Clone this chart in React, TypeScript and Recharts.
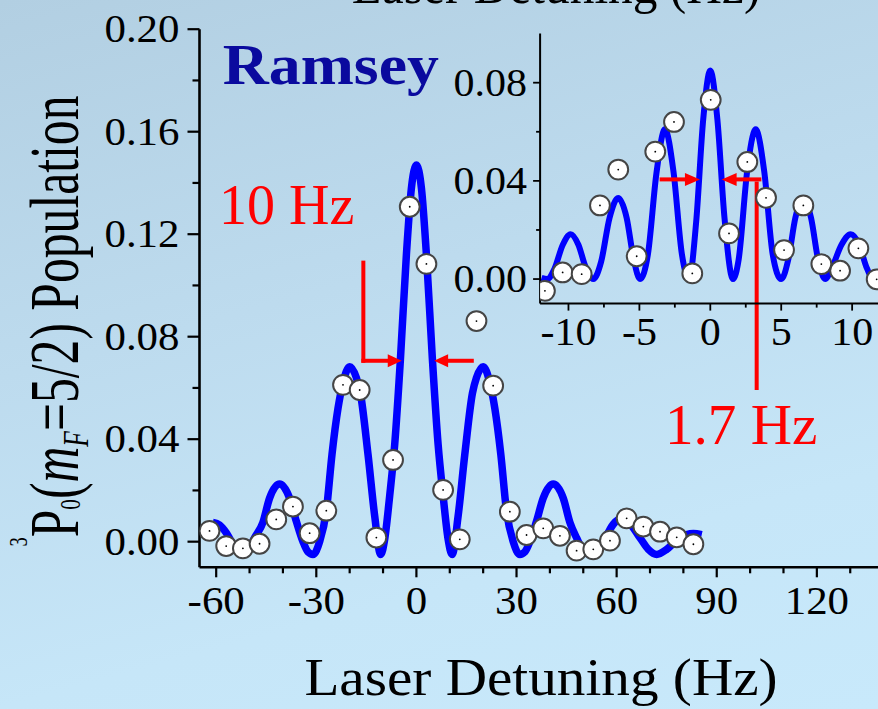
import React from 'react';
import { ComposedChart, Line, Scatter, XAxis, YAxis, ReferenceLine } from 'recharts';

const FONT = '"Liberation Serif", "Times New Roman", Times, serif';

// ---------- main panel: Ramsey fit curve ----------
const mainFitX = [-61, -59, -57, -54.5, -52.5, -50.5, -48.5, -46, -44, -41, -38, -36, -34, -32.5, -31, -29, -27, -25.3, -23.5, -22, -20, -18, -16.8, -14.5, -12.5, -10.7, -9.5, -8, -6.5, -4.8, -3, -1.5, 0, 1.5, 3, 4.8, 6.5, 8, 9.5, 10.7, 12.5, 14.5, 16.8, 18, 20, 22, 23.5, 25.3, 27, 29, 31, 32.5, 34, 36, 38, 41, 44, 46, 48, 50, 52, 54.5, 57, 59, 61.5, 64, 67, 69.5, 72, 75, 78, 81, 83, 85.5];
const mainFitY = [0.0075, 0.0065, 0.0035, -0.002, -0.005, -0.0035, 0.0015, 0.0075, 0.017, 0.0225, 0.017, 0.008, 0.0, -0.004, -0.005, 0.0, 0.012, 0.034, 0.052, 0.062, 0.0683, 0.064, 0.058, 0.034, 0.01, -0.005, 0.001, 0.018, 0.038, 0.071, 0.112, 0.138, 0.147, 0.138, 0.112, 0.071, 0.038, 0.018, 0.001, -0.005, 0.01, 0.034, 0.058, 0.064, 0.0683, 0.062, 0.052, 0.034, 0.012, 0.0, -0.005, -0.004, 0.0, 0.008, 0.017, 0.0225, 0.017, 0.0075, 0.0015, -0.0035, -0.005, -0.0025, 0.0025, 0.0068, 0.009, 0.007, 0.0015, -0.003, -0.005, -0.003, 0.0005, 0.0028, 0.0032, 0.0027];

// main panel: measured points
const mainDataX = [-62, -57, -52, -47, -42, -37, -32, -27, -22, -17, -12, -7, -2, 3, 8, 13, 18, 23, 28, 33, 38, 43, 48, 53, 58, 63, 68, 73, 78, 83];
const mainDataY = [0.0042, -0.0017, -0.0026, -0.0008, 0.0087, 0.0137, 0.0033, 0.0121, 0.0612, 0.0592, 0.0016, 0.0319, 0.1307, 0.1084, 0.0202, 0.0009, 0.0861, 0.0609, 0.0117, 0.0026, 0.0052, 0.0023, -0.0035, -0.003, 0.0004, 0.0091, 0.0059, 0.0039, 0.0017, -0.001];

// ---------- inset ----------
const insetFitX = [-11.9, -11.5, -11, -10.4, -9.85, -9.3, -8.8, -8.25, -7.7, -7.1, -6.5, -5.9, -5.4, -4.95, -4.4, -3.8, -3.2, -2.6, -2, -1.5, -1, -0.5, 0, 0.5, 1, 1.6, 2, 2.6, 3.2, 3.8, 4.4, 5, 5.5, 6, 6.55, 7.1, 7.6, 8.1, 8.6, 9.25, 9.9, 10.5, 11, 11.5, 12];
const insetFitY = [0.0005, 0.0, 0.004, 0.014, 0.0183, 0.014, 0.005, 0.0, 0.007, 0.025, 0.033, 0.025, 0.008, 0.0, 0.01, 0.043, 0.061, 0.044, 0.01, 0.0, 0.023, 0.065, 0.085, 0.065, 0.025, 0.0, 0.008, 0.044, 0.061, 0.044, 0.01, 0.0, 0.008, 0.025, 0.033, 0.025, 0.008, 0.0, 0.005, 0.014, 0.0183, 0.014, 0.005, 0.0, 0.003];
const insetDataX = [-11.66, -10.41, -9.07, -7.78, -6.49, -5.19, -3.88, -2.56, -1.27, 0.03, 1.32, 2.61, 3.93, 5.2, 6.56, 7.83, 9.15, 10.44, 11.73];
const insetDataY = [-0.0048, 0.0027, 0.002, 0.03, 0.0446, 0.0093, 0.0519, 0.064, 0.0023, 0.073, 0.0186, 0.0477, 0.0331, 0.0118, 0.03, 0.0061, 0.0034, 0.0125, -0.0001];

// ---------- axes ----------
const mainXTicks = [-60, -50, -40, -30, -20, -10, 0, 10, 20, 30, 40, 50, 60, 70, 80, 90, 100, 110, 120, 130];
const mainXMajor = [-60, -30, 0, 30, 60, 90, 120];
const mainXLabels = ['-60', '-30', '0', '30', '60', '90', '120'];
const mainYTicks = [0, 0.02, 0.04, 0.06, 0.08, 0.1, 0.12, 0.14, 0.16, 0.18, 0.2];
const mainYMajor = [0, 0.04, 0.08, 0.12, 0.16, 0.2];
const mainYLabels = ['0.00', '0.04', '0.08', '0.12', '0.16', '0.20'];
const insetXTicks = [-10, -7.5, -5, -2.5, 0, 2.5, 5, 7.5, 10];
const insetXMajor = [-10, -5, 0, 5, 10];
const insetXLabels = ['-10', '-5', '0', '5', '10'];
const insetYTicks = [0, 0.02, 0.04, 0.06, 0.08];
const insetYMajor = [0, 0.04, 0.08];
const insetYLabels = ['0.00', '0.04', '0.08'];

// annotation segments (data coordinates)
const mainBracket = [{ x: -15.9, y: 0.1089 }, { x: -15.9, y: 0.0706 }];
const mainArrowL = [{ x: -15.9, y: 0.0706 }, { x: -4.4, y: 0.0706 }];
const mainArrowR = [{ x: 16.6, y: 0.0706 }, { x: 5.3, y: 0.0706 }];
const insetArrowL = [{ x: -3.43, y: 0.0406 }, { x: -0.73, y: 0.0406 }];
const insetArrowR = [{ x: 3.46, y: 0.0406 }, { x: 0.8, y: 0.0406 }];
const insetDrop = [{ x: 3.27, y: 0.0389 }, { x: 3.27, y: -0.0444 }];

const mainFit = mainFitX.map((x, i) => ({ x, y: mainFitY[i] }));
const mainData = mainDataX.map((x, i) => ({ x, y: mainDataY[i] }));
const insetFit = insetFitX.map((x, i) => ({ x, y: insetFitY[i] }));
const insetData = insetDataX.map((x, i) => ({ x, y: insetDataY[i] }));

type TickOpts = { major: number; minor: number; sw: number; dy: number; dx?: number; fs: number; sx: number };

function makeXTick(majors: number[], labels: string[], o: TickOpts, dir: number) {
  return (props: any) => {
    const { x, y, payload } = props;
    const i = majors.indexOf(payload.value);
    const len = i >= 0 ? o.major : o.minor;
    return (
      <g>
        <line x1={x} x2={x} y1={y} y2={y + dir * len} stroke="#000" strokeWidth={o.sw} />
        {i >= 0 && labels.length > 0 && (
          <text transform={`translate(${x},${y + o.dy}) scale(${o.sx},1)`} textAnchor="middle" fontSize={o.fs} fontFamily={FONT} fill="#000">
            {labels[i]}
          </text>
        )}
      </g>
    );
  };
}

function makeYTick(majors: number[], labels: string[], o: TickOpts) {
  return (props: any) => {
    const { x, y, payload } = props;
    const i = majors.indexOf(payload.value);
    const len = i >= 0 ? o.major : o.minor;
    return (
      <g>
        <line x1={x - len} x2={x} y1={y} y2={y} stroke="#000" strokeWidth={o.sw} />
        {i >= 0 && (
          <text transform={`translate(${x - (o.dx || 0)},${y + o.dy}) scale(${o.sx},1)`} textAnchor="end" fontSize={o.fs} fontFamily={FONT} fill="#000">
            {labels[i]}
          </text>
        )}
      </g>
    );
  };
}

const MainXTick = makeXTick(mainXMajor, mainXLabels, { major: 10, minor: 6, sw: 2.2, dy: 47, fs: 39, sx: 1.1 }, 1);
const MainTopTick = makeXTick(mainXMajor, [], { major: 4, minor: 4, sw: 1.8, dy: 0, fs: 39, sx: 1 }, 1);
const MainYTick = makeYTick(mainYMajor, mainYLabels, { major: 12, minor: 7, sw: 2.2, dy: 13, dx: 20, fs: 39, sx: 1.1 });
const InsetXTick = makeXTick(insetXMajor, insetXLabels, { major: 7, minor: 4, sw: 1.8, dy: 41, fs: 40, sx: 1.05 }, 1);
const InsetYTick = makeYTick(insetYMajor, insetYLabels, { major: 7, minor: 4, sw: 1.8, dy: 13, dx: 13, fs: 40, sx: 1.05 });

const Marker = (props: any) => {
  const { cx, cy } = props;
  if (cx == null || cy == null) return null;
  return (
    <g>
      <circle cx={cx} cy={cy} r={9.9} fill="#ffffff" stroke="#454545" strokeWidth={2} />
      <circle cx={cx} cy={cy} r={0.9} fill="#000" />
    </g>
  );
};

const arrowShape = (head: number, half: number, sw: number) => (p: any) => {
  const { x1, y1, x2, y2 } = p;
  if ([x1, y1, x2, y2].some((v) => v == null || isNaN(v))) return <g />;
  const dx = x2 - x1;
  const dy = y2 - y1;
  const L = Math.sqrt(dx * dx + dy * dy) || 1;
  const ux = dx / L;
  const uy = dy / L;
  if (head <= 0) {
    return <line x1={x1} y1={y1} x2={x2} y2={y2} stroke="#ff0000" strokeWidth={sw} strokeLinecap="square" />;
  }
  const bx = x2 - ux * head;
  const by = y2 - uy * head;
  const px = -uy * half;
  const py = ux * half;
  return (
    <g>
      <line x1={x1} y1={y1} x2={bx + ux * 2} y2={by + uy * 2} stroke="#ff0000" strokeWidth={sw} strokeLinecap="square" />
      <polygon points={`${x2},${y2} ${bx + px},${by + py} ${bx - px},${by - py}`} fill="#ff0000" />
    </g>
  );
};

const T = (p: { x: number; y: number; sx?: number; size: number; color?: string; anchor?: string; bold?: boolean; children: any }) => (
  <text
    transform={`translate(${p.x},${p.y}) scale(${p.sx || 1},1)`}
    textAnchor={(p.anchor as any) || 'start'}
    fontSize={p.size}
    fontFamily={FONT}
    fontWeight={p.bold ? 'bold' : 'normal'}
    fill={p.color || '#000'}
  >
    {p.children}
  </text>
);

export default function App() {
  return (
    <div
      style={{
        position: 'fixed',
        left: 0,
        top: 0,
        width: 878,
        height: 709,
        overflow: 'hidden',
        background: 'linear-gradient(165deg, #b2cfe2 0%, #bddbee 40%, #c6e6f8 75%, #c8e9fb 100%)',
      }}
    >
      <div style={{ position: 'absolute', left: 0, top: 0 }}>
        <ComposedChart width={900} height={709} margin={{ top: 29.2, right: 16.4, bottom: 0, left: 0 }}>
          <XAxis
            xAxisId={0}
            dataKey="x"
            type="number"
            domain={[-65, 140]}
            allowDataOverflow
            ticks={mainXTicks}
            interval={0}
            height={141.7}
            tickSize={0}
            tickMargin={0}
            tickLine={false}
            tick={<MainXTick />}
            axisLine={{ stroke: '#000', strokeWidth: 2.6 }}
          />
          <XAxis
            xAxisId="top"
            orientation="top"
            dataKey="x"
            type="number"
            domain={[-65, 140]}
            allowDataOverflow
            ticks={mainXTicks}
            interval={0}
            height={0}
            tickSize={0}
            tickMargin={0}
            tickLine={false}
            tick={<MainTopTick />}
            axisLine={{ stroke: '#000', strokeWidth: 2.6 }}
          />
          <YAxis
            type="number"
            domain={[-0.01, 0.2]}
            allowDataOverflow
            ticks={mainYTicks}
            interval={0}
            width={199.5}
            tickSize={0}
            tickMargin={0}
            tickLine={false}
            tick={<MainYTick />}
            axisLine={{ stroke: '#000', strokeWidth: 2.6 }}
          />
          <Line data={mainFit} dataKey="y" type="monotone" stroke="#0000ff" strokeWidth={7.5} dot={false} isAnimationActive={false} />
          <Scatter data={mainData} dataKey="y" shape={<Marker />} isAnimationActive={false} />
          <ReferenceLine segment={mainBracket} ifOverflow="visible" shape={arrowShape(0, 0, 4)} />
          <ReferenceLine segment={mainArrowL} ifOverflow="visible" shape={arrowShape(14, 6.5, 4)} />
          <ReferenceLine segment={mainArrowR} ifOverflow="visible" shape={arrowShape(14, 6.5, 4)} />
        </ComposedChart>
      </div>

      <div style={{ position: 'absolute', left: 0, top: 0 }}>
        <ComposedChart width={900} height={460} margin={{ top: 33.6, right: 19.5, bottom: 0, left: 0 }}>
          <XAxis
            xAxisId={0}
            dataKey="x"
            type="number"
            domain={[-12, 12]}
            allowDataOverflow
            ticks={insetXTicks}
            interval={0}
            height={156.4}
            tickSize={0}
            tickMargin={0}
            tickLine={false}
            tick={<InsetXTick />}
            axisLine={{ stroke: '#000', strokeWidth: 2 }}
          />
          <XAxis
            xAxisId="top"
            orientation="top"
            dataKey="x"
            type="number"
            domain={[-12, 12]}
            allowDataOverflow
            height={0}
            tick={false}
            tickLine={false}
            axisLine={{ stroke: '#000', strokeWidth: 2 }}
          />
          <YAxis
            type="number"
            domain={[-0.01, 0.1]}
            allowDataOverflow
            ticks={insetYTicks}
            interval={0}
            width={540.1}
            tickSize={0}
            tickMargin={0}
            tickLine={false}
            tick={<InsetYTick />}
            axisLine={{ stroke: '#000', strokeWidth: 2 }}
          />
          <Line data={insetFit} dataKey="y" type="monotone" stroke="#0000ff" strokeWidth={6} dot={false} isAnimationActive={false} />
          <Scatter data={insetData} dataKey="y" shape={<Marker />} isAnimationActive={false} />
          <ReferenceLine segment={insetArrowL} ifOverflow="visible" shape={arrowShape(15, 6.5, 4)} />
          <ReferenceLine segment={insetArrowR} ifOverflow="visible" shape={arrowShape(15, 6.5, 4)} />
          <ReferenceLine segment={insetDrop} ifOverflow="visible" shape={arrowShape(0, 0, 4)} />
        </ComposedChart>
      </div>

      <svg width={878} height={709} style={{ position: 'absolute', left: 0, top: 0, pointerEvents: 'none' }}>
        <T x={556} y={3} size={52} sx={0.95} anchor="middle">Laser Detuning (Hz)</T>
        <T x={541} y={695} size={52} sx={1.1} anchor="middle">Laser Detuning (Hz)</T>
        <T x={222.7} y={83.5} size={57} sx={1.12} bold color="#0a0a9e">Ramsey</T>
        <T x={219} y={224} size={56} sx={1.0} color="#ff0000">10 Hz</T>
        <T x={665} y={444} size={56} sx={1.02} color="#ff0000">1.7 Hz</T>
        <text
          transform="translate(78,321) rotate(-90)"
          textAnchor="middle"
          fontSize={70}
          fontFamily={FONT}
          fill="#000"
          textLength={451}
          lengthAdjust="spacingAndGlyphs"
        >
          <tspan fontSize={26} dy={-51}>3</tspan>
          <tspan dy={51}>P</tspan>
          <tspan fontSize={30} dy={2}>0</tspan>
          <tspan dy={-2}>(</tspan>
          <tspan fontStyle="italic">m</tspan>
          <tspan fontStyle="italic" fontSize={36} dy={10}>F</tspan>
          <tspan dy={-10}>=5/2) Population</tspan>
        </text>
      </svg>
    </div>
  );
}
